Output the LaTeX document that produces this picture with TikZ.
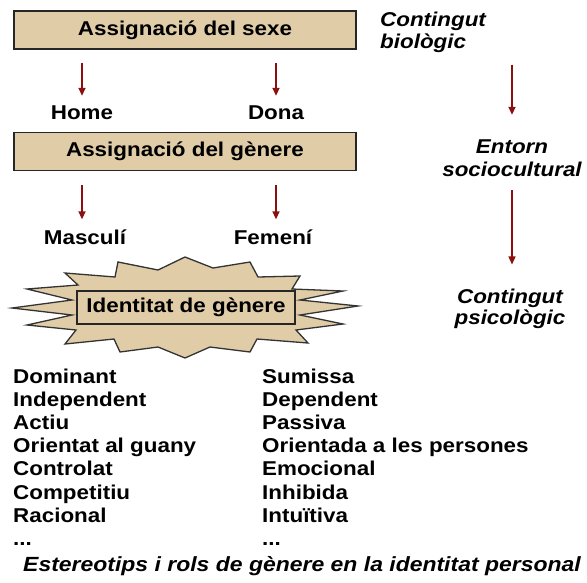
\documentclass[tikz,border=0pt]{standalone}
\usepackage{fontspec}
\newfontfamily\diagfont[FakeStretch=1.12]{Liberation Sans}
\usepackage{tikz}
\usetikzlibrary{arrows.meta,positioning,calc}

\definecolor{tan}{RGB}{224,205,168}
\definecolor{arrowred}{RGB}{140,16,16}
\newcommand\moredots{...}

\begin{document}
\begin{tikzpicture}[x=1pt,y=-1pt,
  every node/.style={font=\diagfont\bfseries\fontsize{20}{22}\selectfont,inner sep=0pt},
  assign/.style={draw=black!85,line width=1.5pt,fill=tan,minimum width=342pt,minimum height=38pt},
  idbox/.style={draw=black!85,line width=1.5pt,fill=tan,minimum width=218pt,minimum height=33pt},
  burst/.style={draw=black!80,line width=1.3pt,fill=tan,line join=miter},
  label/.style={font=\diagfont\bfseries\itshape\fontsize{20}{22}\selectfont},
  trait/.style={anchor=base west},
  link/.style={-{Triangle[length=8pt,width=7pt]},draw=arrowred,fill=arrowred,line width=1.4pt}]

    \useasboundingbox (0,0) rectangle (587,582);

    % boxes and their outcomes
    \node[assign] (sexe) at (185,30) {Assignació del sexe};
    \node (home) at (82,113) {Home};
    \node (dona) at (276,113) {Dona};
    \node[assign] (genere) at (185,151.5) {Assignació del gènere};
    \node (masc) at (85,237) {Masculí};
    \node (fem) at (273,237) {Femení};

    % starburst round the identity box
    \draw[burst] (185,257) -- (213,268) -- (250,262) -- (258,277) -- (300,276)
      -- (292,289) -- (343,291) -- (300,300) -- (358,306) -- (300,315)
      -- (343,324) -- (296,330) -- (308,343) -- (257,339) -- (250,352)
      -- (210,347) -- (185,358) -- (158,347) -- (120,352) -- (114,339)
      -- (65,344) -- (76,330) -- (27,325) -- (72,315) -- (12,308)
      -- (72,300) -- (27,289) -- (78,285) -- (65,273) -- (115,277)
      -- (118,262) -- (158,270) -- cycle;
    \node[idbox] (ident) at (186,307.5) {Identitat de gènere};

    % levels on the right
    \node[label,align=left,anchor=west] (bio) at (380,32) {Contingut\\biològic};
    \node[label,align=center,font=\diagfont\bfseries\itshape\fontsize{20}{23}\selectfont] (entorn) at (512,158.5) {Entorn\\sociocultural};
    \node[label,align=center,font=\diagfont\bfseries\itshape\fontsize{20}{21}\selectfont] (psico) at (510,308.5) {Contingut\\psicològic};

    \draw[link,shorten <=13pt,shorten >=10pt] (sexe.south -| home) -- (home.north);
    \draw[link,shorten <=13pt,shorten >=10pt] (sexe.south -| dona) -- (dona.north);
    \draw[link,shorten <=14pt,shorten >=10pt] (genere.south -| home) -- (masc.north -| home);
    \draw[link,shorten <=14pt,shorten >=10pt] (genere.south -| dona) -- (fem.north -| dona);
    \draw[link,shorten <=12pt,shorten >=25pt] (bio.south -| entorn) -- (entorn.north);
    \draw[link,shorten <=13pt,shorten >=24pt] (entorn.south) -- (psico.north -| entorn);

    % stereotypes
    \foreach \m/\f [count=\i from 0] in {Dominant/Sumissa,Independent/Dependent,Actiu/Passiva,
        Orientat al guany/Orientada a les persones,Controlat/Emocional,Competitiu/Inhibida,
        Racional/Intuïtiva,\moredots/\moredots}
    {
        \node[trait] (m\i) at (13,383+23.2*\i) {\m};
        \node[trait] (f\i) at (262,383+23.2*\i) {\f};
    }

    \node[label,anchor=west,font=\diagfont\bfseries\itshape\fontsize{20.5}{22}\selectfont] (caption) at (23,566) {Estereotips i rols de gènere en la identitat personal};
\end{tikzpicture}
\end{document}
